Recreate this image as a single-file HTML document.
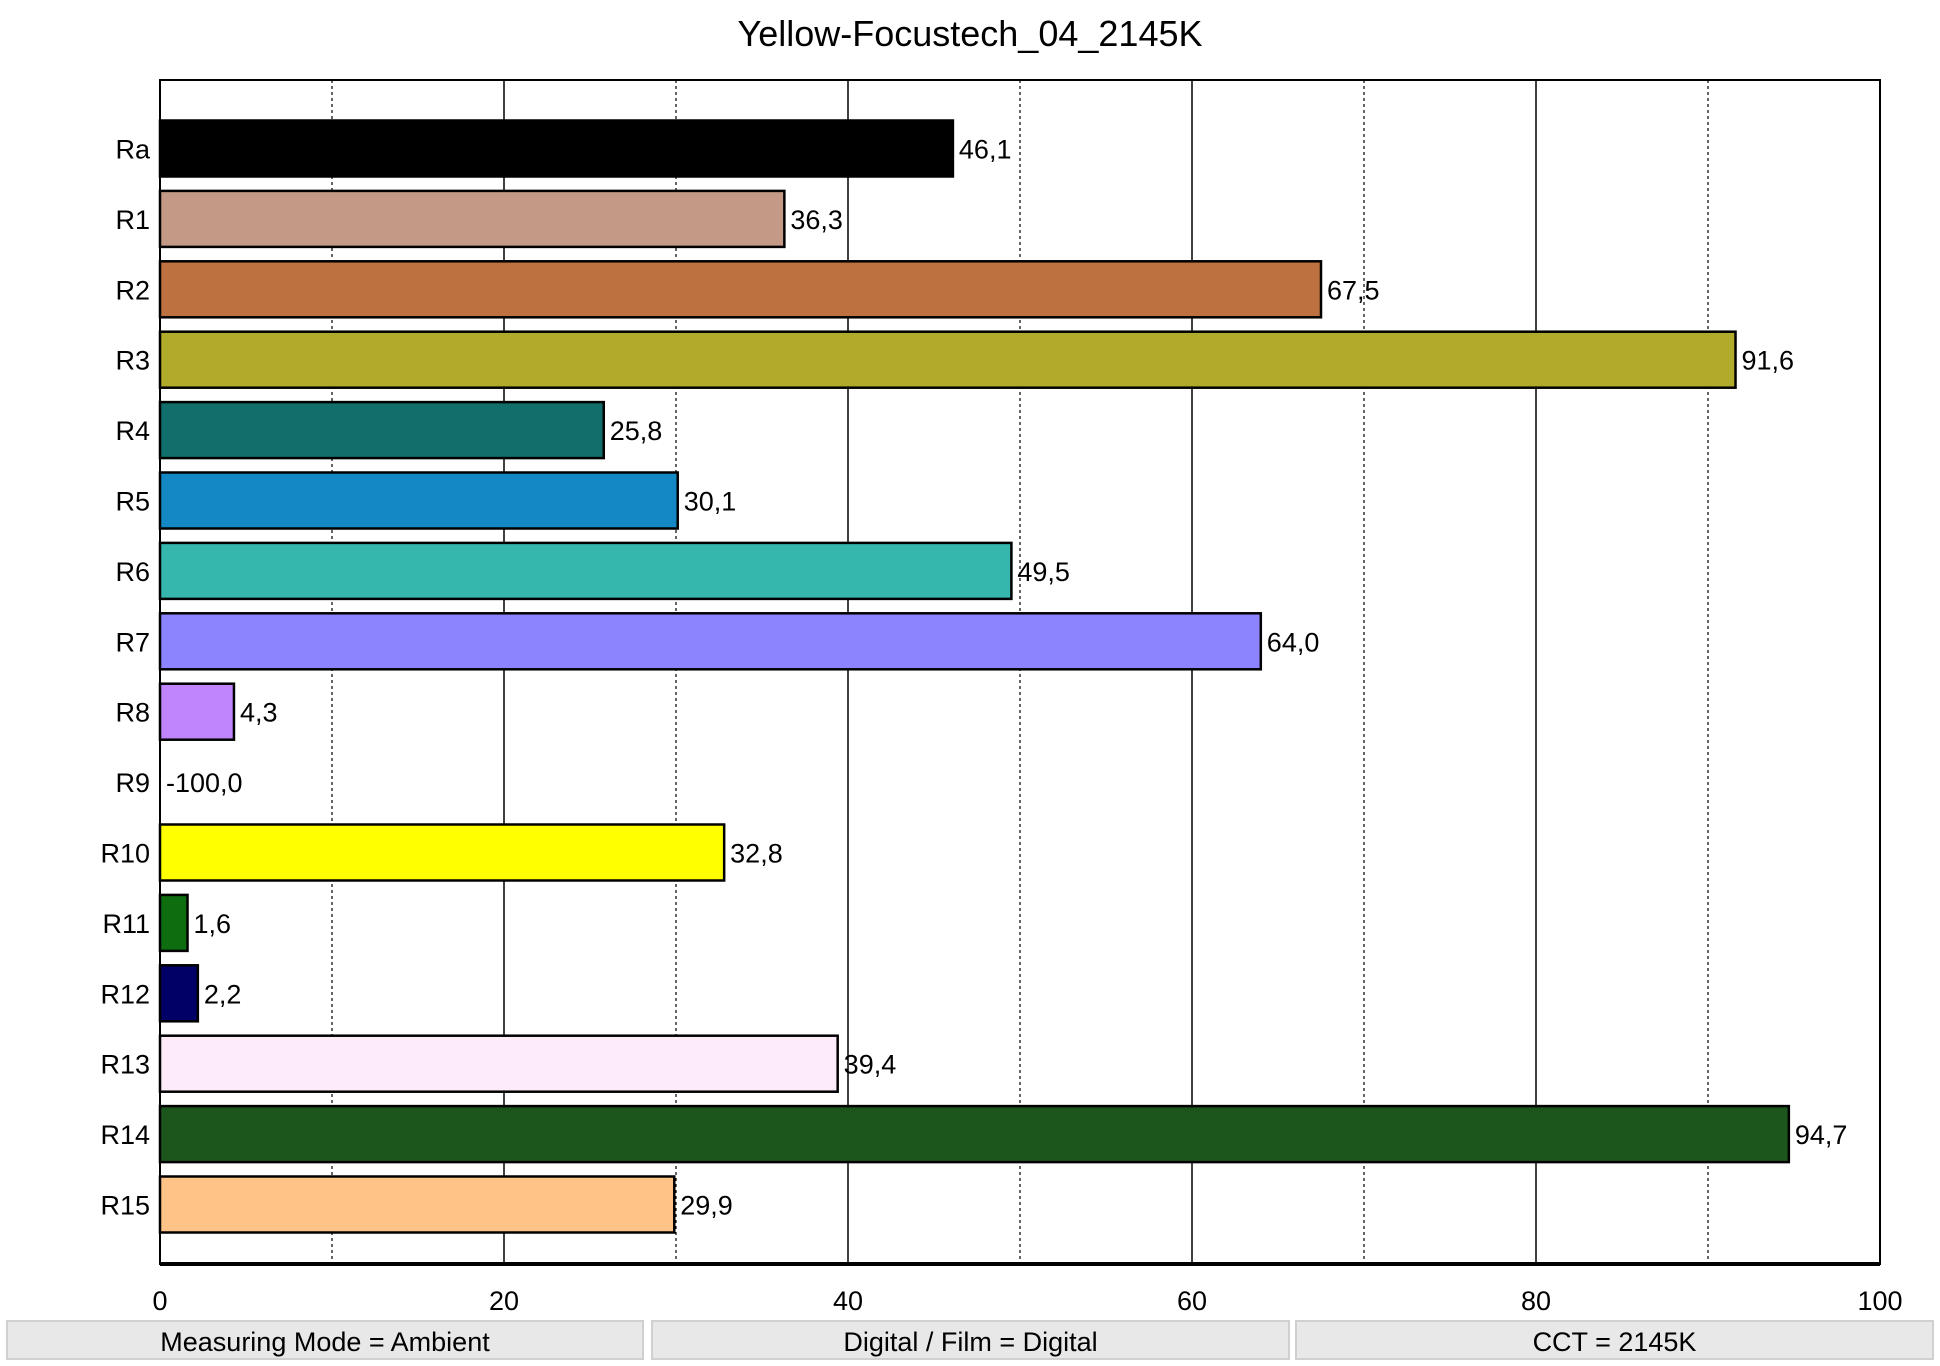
<!DOCTYPE html>
<html><head><meta charset="utf-8"><style>
body{margin:0;background:#fff;width:1940px;height:1366px;overflow:hidden;font-family:"Liberation Sans",sans-serif}
.foot{position:absolute;top:1320px;height:40px;background:#e8e8e8;border:2px solid #d0d0d0;box-sizing:border-box;text-align:center;font-size:27px;line-height:40px;color:#000}
</style></head><body>
<svg id="chart" width="1940" height="1366" style="position:absolute;left:0;top:0" font-family="Liberation Sans, sans-serif">
<text x="970" y="46" font-size="36" text-anchor="middle">Yellow-Focustech_04_2145K</text>
<g id="grid"></g><g id="bars"></g><g id="labels"></g>
<rect x="160" y="80" width="1720" height="1184" fill="none" stroke="#000" stroke-width="2"/>
<line x1="160" y1="1264" x2="1880" y2="1264" stroke="#000" stroke-width="4"/>
</svg>
<div class="foot" style="left:6px;width:638px">Measuring Mode = Ambient</div>
<div class="foot" style="left:651px;width:639px">Digital / Film = Digital</div>
<div class="foot" style="left:1295px;width:639px">CCT = 2145K</div>
<script>
const categories=["Ra","R1","R2","R3","R4","R5","R6","R7","R8","R9","R10","R11","R12","R13","R14","R15"];
const values=[46.1,36.3,67.5,91.6,25.8,30.1,49.5,64.0,4.3,-100.0,32.8,1.6,2.2,39.4,94.7,29.9];
const colors=["#000000","#c49a86","#bd7040","#b1ab2c","#116e6a","#1388c4","#35b7ad","#8b84fe","#c084fc","#ffffff","#ffff00","#0e6d0e","#000066","#feebf9","#1c561c","#ffc388"];
const ticks=[0,20,40,60,80,100];
const minorTicks=[10,30,50,70,90];
const NS="http://www.w3.org/2000/svg";
const X0=160,X1=1880,Y0=80,Y1=1264,top0=148.5,pitch=70.4,bh=56;
const x=v=>X0+(Math.max(0,Math.min(100,v))/100)*(X1-X0);
const y=i=>top0+i*pitch;
const grid=document.getElementById('grid'),bars=document.getElementById('bars'),labels=document.getElementById('labels');
function mk(t,a,p){const e=document.createElementNS(NS,t);for(const k in a)e.setAttribute(k,a[k]);p.appendChild(e);return e;}
minorTicks.forEach(t=>{const l=mk('line',{x1:x(t),x2:x(t),y1:Y0,y2:Y1,stroke:'#000','stroke-width':1.2,'stroke-dasharray':'3,3'},grid);

});
ticks.forEach(t=>{const l=mk('line',{x1:x(t),x2:x(t),y1:Y0,y2:Y1,stroke:'#000','stroke-width':1.5},grid);


const tx=mk('text',{x:x(t),y:1310,'font-size':27,'text-anchor':'middle'},labels);tx.textContent=t;

});
categories.forEach((c,i)=>{
const cy=y(i);
const lab=mk('text',{x:150,y:cy+10,'font-size':27,'text-anchor':'end'},labels);lab.textContent=c;


const v=values[i];
let endX=X0;
if(v>0){const r=mk('rect',{x:X0,y:cy-bh/2,width:x(v)-X0,height:bh,fill:colors[i],stroke:'#000','stroke-width':2.5},bars);


endX=x(v);}
const vl=mk('text',{x:endX+6,y:cy+10,'font-size':27},labels);vl.textContent=v.toFixed(1).replace('.',',');


});
</script>
</body></html>
